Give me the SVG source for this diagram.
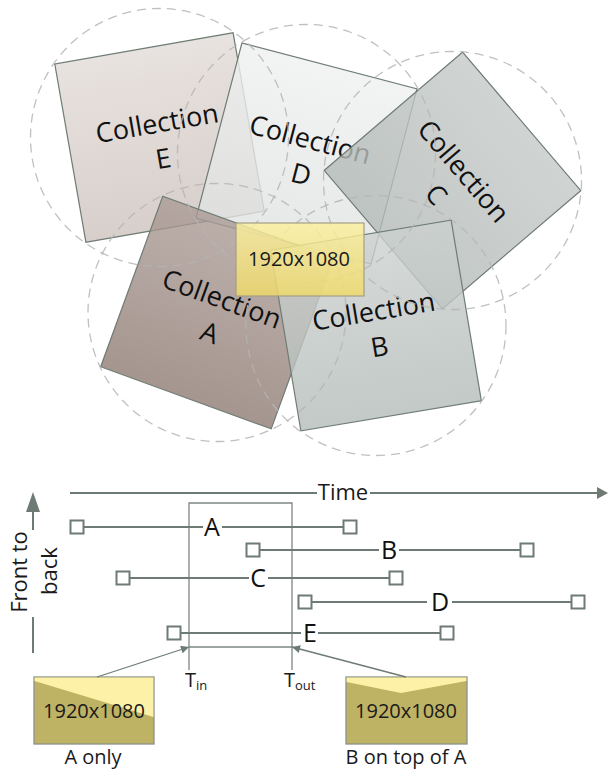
<svg xmlns="http://www.w3.org/2000/svg" width="608" height="770" viewBox="0 0 608 770">
<defs>
<style>
.sq{stroke:#6e7c74;stroke-width:1.2;fill-opacity:0.8}
.lbl{font-family:"Open Sans","Liberation Sans",sans-serif;font-size:27px;fill:#111;text-anchor:middle}
.ring{fill:none;stroke:#b5b5b5;stroke-width:1.3;stroke-dasharray:9 6;opacity:0.85}
.tl{fill:none;stroke:#6e7b74;stroke-width:2}
.box{fill:#fff;stroke:#6e7b74;stroke-width:2}
.win{fill:none;stroke:#7d8882;stroke-width:1.3}
.t{font-family:"Open Sans","Liberation Sans",sans-serif;font-size:25px;fill:#111;text-anchor:middle}
.s{font-family:"Open Sans","Liberation Sans",sans-serif;font-size:20px;fill:#1a1a1a;text-anchor:middle}
.thumb{stroke:#8c9189;stroke-width:1.3}
.conn{fill:none;stroke:#6e7b74;stroke-width:1.3}
</style>
<linearGradient id="gE" x1="0" y1="0" x2="0" y2="1"><stop offset="0" stop-color="#e2dbd8"/><stop offset="1" stop-color="#cec3be"/></linearGradient>
<linearGradient id="gD" x1="0" y1="0" x2="0" y2="1"><stop offset="0" stop-color="#eff0f0"/><stop offset="1" stop-color="#e0e2e2"/></linearGradient>
<linearGradient id="gC" x1="0" y1="0" x2="0" y2="1"><stop offset="0" stop-color="#c4c9c8"/><stop offset="1" stop-color="#b3bab8"/></linearGradient>
<linearGradient id="gA" x1="0" y1="0" x2="0" y2="1"><stop offset="0" stop-color="#ab9b95"/><stop offset="1" stop-color="#8f7b73"/></linearGradient>
<linearGradient id="gB" x1="0" y1="0" x2="0" y2="1"><stop offset="0" stop-color="#ccd1d0"/><stop offset="1" stop-color="#b4bcb9"/></linearGradient>
<linearGradient id="gY" x1="0" y1="0" x2="0" y2="1"><stop offset="0" stop-color="#fbf0a0"/><stop offset="1" stop-color="#f0da68"/></linearGradient>
<marker id="ah" viewBox="0 0 10 10" refX="10" refY="5" markerWidth="9" markerHeight="8" markerUnits="userSpaceOnUse" orient="auto"><path d="M0,0 L10,5 L0,10 z" fill="#6e7b74"/></marker>
</defs>
<rect width="608" height="770" fill="#fff"/>

<g id="collection-e" transform="translate(159.5,137.5) rotate(-9.9)">
<rect class="sq" x="-90.5" y="-90.5" width="181" height="181" fill="url(#gE)"/>
<text class="lbl" y="-5">Collection</text><text class="lbl" y="31">E</text>
</g>
<g id="collection-d" transform="translate(306.5,153.5) rotate(14.7)">
<rect class="sq" x="-90.5" y="-90.5" width="181" height="181" fill="url(#gD)"/>
<text class="lbl" y="-5">Collection</text><text class="lbl" y="31">D</text>
</g>
<g id="collection-c" transform="translate(452.5,180.5) rotate(49.5)">
<rect class="sq" x="-91" y="-91" width="182" height="182" fill="url(#gC)"/>
<text class="lbl" y="-5">Collection</text><text class="lbl" y="31">C</text>
</g>
<g id="collection-a" transform="translate(217,312.5) rotate(20)">
<rect class="sq" x="-90.75" y="-90.75" width="181.5" height="181.5" fill="url(#gA)"/>
<text class="lbl" y="-5">Collection</text><text class="lbl" y="31">A</text>
</g>
<g id="collection-b" transform="translate(376,325.5) rotate(-9.5)">
<rect class="sq" x="-91.5" y="-91.5" width="183" height="183" fill="url(#gB)"/>
<text class="lbl" y="-5">Collection</text><text class="lbl" y="31">B</text>
</g>

<g id="rings">
<circle class="ring" cx="159.5" cy="137.5" r="129"/>
<circle class="ring" cx="306.5" cy="153.5" r="129"/>
<circle class="ring" cx="452.5" cy="180.5" r="129"/>
<circle class="ring" cx="217" cy="312.5" r="129"/>
<circle class="ring" cx="376" cy="325.5" r="130"/>
</g>

<g id="frame">
<rect x="236" y="223" width="128" height="73" fill="url(#gY)" fill-opacity="0.82" stroke="#a39f86" stroke-width="1.2"/>
<text class="s" x="299" y="266">1920x1080</text>
</g>

<g id="axes">
<path class="tl" d="M70,493 H317 M370,493 H598"/>
<polygon points="597,487 608,493 597,499" fill="#6e7b74"/>
<text class="s" x="343" y="500" style="font-size:22px">Time</text>
<path class="tl" d="M33,510 V530 M33,617 V653"/>
<polygon points="26,512 33,492 40,512" fill="#6e7b74"/>
<text class="s" style="font-size:22px" transform="translate(27,572) rotate(-90)">Front to</text>
<text class="s" style="font-size:22px" transform="translate(57,571) rotate(-90)">back</text>
</g>

<g id="window">
<path class="win" d="M189,670 V503 H292 V670 M189,647 H292"/>
<text class="s" x="185" y="687" style="text-anchor:start">T<tspan style="font-size:13px" dy="3">in</tspan></text>
<text class="s" x="284" y="687" style="text-anchor:start">T<tspan style="font-size:13px" dy="3">out</tspan></text>
</g>

<g id="row-a">
<path class="tl" d="M84,527 H203 M222,527 H343"/>
<rect class="box" x="70.5" y="520.5" width="13" height="13"/>
<rect class="box" x="343.5" y="520.5" width="13" height="13"/>
<text class="t" x="212" y="536">A</text>
</g>
<g id="row-b">
<path class="tl" d="M260,550 H379 M399,550 H520"/>
<rect class="box" x="246.5" y="543.5" width="13" height="13"/>
<rect class="box" x="520.5" y="543.5" width="13" height="13"/>
<text class="t" x="389" y="559">B</text>
</g>
<g id="row-c">
<path class="tl" d="M130,578 H249 M268,578 H389"/>
<rect class="box" x="116.5" y="571.5" width="13" height="13"/>
<rect class="box" x="389.5" y="571.5" width="13" height="13"/>
<text class="t" x="258" y="587">C</text>
</g>
<g id="row-d">
<path class="tl" d="M312,602 H427 M452,602 H571"/>
<rect class="box" x="298.5" y="595.5" width="13" height="13"/>
<rect class="box" x="571.5" y="595.5" width="13" height="13"/>
<text class="t" x="440" y="611">D</text>
</g>
<g id="row-e">
<path class="tl" d="M181,633 H301 M318,633 H440"/>
<rect class="box" x="167.5" y="626.5" width="13" height="13"/>
<rect class="box" x="440.5" y="626.5" width="13" height="13"/>
<text class="t" x="310" y="642">E</text>
</g>

<g id="thumb-a-only">
<rect class="thumb" x="34" y="677" width="120" height="67" fill="#beb264"/>
<polygon points="34.6,677.6 153.4,677.6 153.4,717 34.6,681" fill="#fcf1a7"/>
<text class="s" x="94" y="718">1920x1080</text>
<text class="s" x="93" y="764">A only</text>
</g>
<g id="thumb-b-on-a">
<rect class="thumb" x="346" y="677" width="121" height="67" fill="#beb264"/>
<polygon points="346.6,677.6 466.4,677.6 466.4,681 401,693 346.6,682" fill="#fcf1a7"/>
<text class="s" x="406" y="718">1920x1080</text>
<text class="s" x="406" y="764">B on top of A</text>
</g>

<g id="connectors">
<line class="conn" x1="97" y1="677" x2="189" y2="647" marker-end="url(#ah)"/>
<line class="conn" x1="406" y1="677" x2="292" y2="647" marker-end="url(#ah)"/>
</g>
</svg>
